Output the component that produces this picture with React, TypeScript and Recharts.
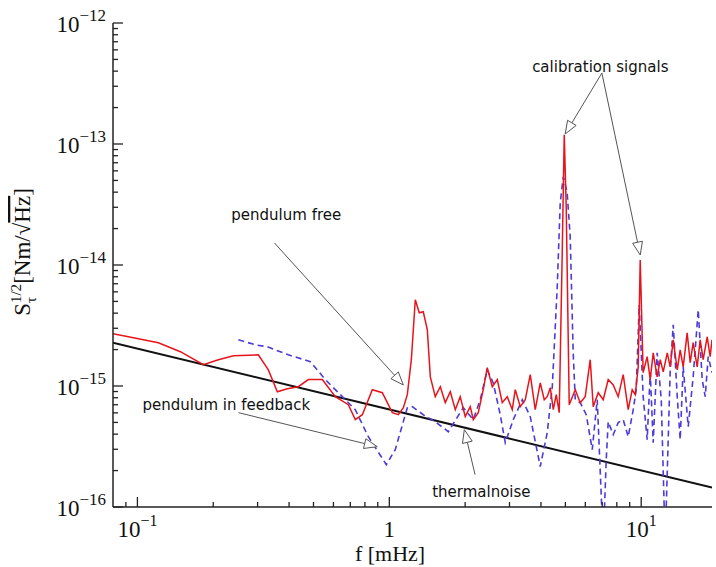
import React from 'react';
import { LineChart, Line, XAxis, YAxis, ReferenceLine, ReferenceDot } from 'recharts';

// pendulum free (red)
const freeFreq = [
  0.08, 0.0964, 0.1211, 0.1481, 0.1827, 0.2096, 0.2404, 0.302, 0.331, 0.3593,
  0.3937, 0.4353, 0.4771, 0.5421, 0.6105, 0.6876, 0.7328, 0.7815, 0.8561, 0.9381,
  1.028, 1.086, 1.137, 1.179, 1.223, 1.268, 1.315, 1.364, 1.415, 1.455,
  1.522, 1.594, 1.668, 1.746, 1.828, 1.912, 2.002, 2.096, 2.154, 2.255,
  2.36, 2.448, 2.563, 2.683, 2.808, 2.939, 3.077, 3.162, 3.311, 3.465,
  3.627, 3.796, 3.974, 4.122, 4.236, 4.355, 4.476, 4.6, 4.727, 4.859,
  4.948, 5.039, 5.179, 5.473, 5.728, 5.995, 6.275, 6.449, 6.751, 7.067,
  7.397, 7.743, 8.103, 8.483, 8.879, 9.211, 9.467, 9.73, 9.909, 10.18,
  10.56, 10.86, 11.16, 11.57, 11.9, 12.23, 12.69, 13.03, 13.4, 13.9,
  14.28, 14.68, 15.22, 15.65, 16.08, 16.68, 17.15, 17.62, 18.28, 18.78,
  19.1,
];
const freeAmp = [
  2.7e-15, 2.51e-15, 2.28e-15, 1.92e-15, 1.5e-15, 1.65e-15, 1.78e-15, 1.81e-15, 1.36e-15, 8.97e-16,
  9.5e-16, 9.87e-16, 1.13e-15, 1.13e-15, 8.16e-16, 7.01e-16, 5.27e-16, 5.79e-16, 9.32e-16, 8.8e-16,
  6.02e-16, 5.79e-16, 6.62e-16, 8.48e-16, 1.65e-15, 5.16e-15, 4.03e-15, 4.11e-15, 2.92e-15, 1.19e-15,
  8.16e-16, 9.87e-16, 7.28e-16, 8.97e-16, 6.37e-16, 8.16e-16, 5.58e-16, 6.75e-16, 5.27e-16, 6.02e-16,
  9.32e-16, 1.42e-15, 9.87e-16, 1.13e-15, 7.28e-16, 8.16e-16, 6.37e-16, 9.32e-16, 6.75e-16, 7.71e-16,
  1.24e-15, 6.37e-16, 1.06e-15, 7.71e-16, 8.16e-16, 9.68e-16, 6.37e-16, 8.48e-16, 6.02e-16, 1.3e-14,
  1.19e-13, 3.0e-14, 7.01e-16, 9.32e-16, 7.28e-16, 8.16e-16, 1.65e-15, 6.75e-16, 8.8e-16, 7.71e-16,
  1.13e-15, 1.02e-15, 8.16e-16, 1.24e-15, 6.37e-16, 9.32e-16, 8.48e-16, 1.44e-15, 1.1e-14, 1.29e-15,
  1.75e-15, 1.13e-15, 1.88e-15, 1.19e-15, 1.65e-15, 1.31e-15, 1.88e-15, 1.44e-15, 2.41e-15, 1.36e-15,
  1.99e-15, 1.44e-15, 2.75e-15, 1.56e-15, 2.28e-15, 1.44e-15, 2.41e-15, 1.65e-15, 2.55e-15, 1.75e-15,
  2.41e-15,
];

// pendulum in feedback (blue dashed)
const feedbackFreq = [
  0.2517, 0.2939, 0.328, 0.3973, 0.4859, 0.5572, 0.6389, 0.7328, 0.8254, 0.973,
  1.056, 1.179, 1.234, 1.364, 1.522, 1.715, 1.966, 2.154, 2.297, 2.448,
  2.586, 2.757, 2.886, 3.105, 3.372, 3.627, 3.974, 4.236, 4.436, 4.642,
  4.77, 4.904, 5.08, 5.226, 5.37, 5.473, 5.728, 6.05, 6.391, 6.69,
  7.067, 7.263, 7.397, 7.743, 8.103, 8.483, 8.879, 9.295, 9.554, 9.819,
  10.18, 10.56, 10.86, 11.16, 11.57, 12.01, 12.45, 13.03, 13.4, 13.9,
  14.28, 14.68, 15.37, 16.08, 16.84, 17.46, 17.95, 18.45, 19.1,
];
const feedbackAmp = [
  2.41e-15, 2.19e-15, 2.11e-15, 1.81e-15, 1.59e-15, 1.13e-15, 8.48e-16, 6.37e-16, 3.81e-16, 2.24e-16,
  2.98e-16, 6.62e-16, 6.75e-16, 5.79e-16, 5.07e-16, 4.19e-16, 6.62e-16, 5.27e-16, 7.71e-16, 1.36e-15,
  1.06e-15, 5.79e-16, 3.4e-16, 5.27e-16, 7.71e-16, 5.58e-16, 2.16e-16, 4.11e-16, 9.87e-16, 6.61e-15,
  3.26e-14, 5.35e-14, 4.0e-14, 1.71e-14, 1.88e-15, 7.71e-16, 7.28e-16, 5.79e-16, 2.98e-16, 7.71e-16,
  5e-17, 2.46e-16, 5.07e-16, 3.96e-16, 4.98e-16, 5.27e-16, 3.81e-16, 6.37e-16, 9.32e-16, 4.69e-15,
  8.16e-16, 3.6e-16, 1.29e-15, 3.4e-16, 1.88e-15, 7.71e-16, 5e-17, 1.29e-15, 3.21e-15, 8.16e-16,
  3.6e-16, 1.44e-15, 4.61e-16, 1.19e-15, 4.27e-15, 1.13e-15, 8.16e-16, 1.75e-15, 1.29e-15,
];

// thermal noise (black)
const thermalFreq = [0.08, 19.1];
const thermalAmp = [2.28e-15, 1.45e-16];

const xTicks = [0.09, 0.1, 0.2, 0.3, 0.4, 0.5, 0.6, 0.7, 0.8, 0.9, 1, 2, 3, 4, 5, 6, 7, 8, 9, 10];
const xMajor = [0.1, 1, 10];
const xMajorBase = ['10', '1', '10'];
const xMajorExp = ['\u22121', '', '1'];

const yTicks = [
  1e-16, 2e-16, 3e-16, 4e-16, 5e-16, 6e-16, 7e-16, 8e-16, 9e-16,
  1e-15, 2e-15, 3e-15, 4e-15, 5e-15, 6e-15, 7e-15, 8e-15, 9e-15,
  1e-14, 2e-14, 3e-14, 4e-14, 5e-14, 6e-14, 7e-14, 8e-14, 9e-14,
  1e-13, 2e-13, 3e-13, 4e-13, 5e-13, 6e-13, 7e-13, 8e-13, 9e-13,
  1e-12,
];
const yMajor = [1e-16, 1e-15, 1e-14, 1e-13, 1e-12];
const yMajorExp = ['\u221216', '\u221215', '\u221214', '\u221213', '\u221212'];

// annotation texts and arrows (data coordinates)
const noteText = ['calibration signals', 'pendulum free', 'pendulum in feedback', 'thermalnoise'];
const noteFreq = [6.88, 0.39, 0.2255, 2.32];
const noteAmp = [4.33e-13, 2.6e-14, 7.01e-16, 1.34e-16];

const arrowFromFreq = [6.98, 6.98, 0.35, 0.252, 2.19];
const arrowFromAmp = [3.86e-13, 3.86e-13, 1.52e-14, 6.02e-16, 1.85e-16];
const arrowToFreq = [4.99, 9.91, 1.137, 0.896, 1.985];
const arrowToAmp = [1.21e-13, 1.21e-14, 1.02e-15, 3.15e-16, 4.36e-16];

const freeData = freeFreq.map((f, i) => ({ f, s: freeAmp[i] }));
const feedbackData = feedbackFreq.map((f, i) => ({ f, s: feedbackAmp[i] }));
const thermalData = thermalFreq.map((f, i) => ({ f, s: thermalAmp[i] }));

const SERIF = "'Liberation Serif', 'Times New Roman', serif";
const SANS = "'DejaVu Sans', 'Open Sans', sans-serif";
const AXIS = '#222';

const BottomTick = (props: any) => {
  const { x, y, payload } = props;
  const k = xMajor.indexOf(payload.value);
  const len = k >= 0 ? 10 : 5;
  return (
    <g>
      <line x1={x} y1={y} x2={x} y2={y - len} stroke={AXIS} strokeWidth={1.3} />
      {k >= 0 && (
        <text x={x} y={y + 30} textAnchor="middle" fontFamily={SERIF} fontSize={23} fill="#111">
          {xMajorBase[k]}
          {xMajorExp[k] && (
            <tspan dy={-11} fontSize={16}>
              {xMajorExp[k]}
            </tspan>
          )}
        </text>
      )}
    </g>
  );
};

const TopTick = (props: any) => {
  const { x, y, payload } = props;
  const len = xMajor.indexOf(payload.value) >= 0 ? 10 : 5;
  return <line x1={x} y1={y} x2={x} y2={y + len} stroke={AXIS} strokeWidth={1.3} />;
};

const LeftTick = (props: any) => {
  const { x, y, payload } = props;
  const k = yMajor.indexOf(payload.value);
  const len = k >= 0 ? 10 : 5;
  return (
    <g>
      <line x1={x} y1={y} x2={x + len} y2={y} stroke={AXIS} strokeWidth={1.3} />
      {k >= 0 && (
        <text x={x - 7} y={y + 9} textAnchor="end" fontFamily={SERIF} fontSize={23} fill="#111">
          10
          <tspan dy={-11} fontSize={17}>
            {yMajorExp[k]}
          </tspan>
        </text>
      )}
    </g>
  );
};

const RightTick = (props: any) => {
  const { x, y, payload } = props;
  const len = yMajor.indexOf(payload.value) >= 0 ? 10 : 5;
  return <line x1={x} y1={y} x2={x - len} y2={y} stroke={AXIS} strokeWidth={1.3} />;
};

const Arrow = (p: any) => {
  const { x1, y1, x2, y2 } = p;
  if ([x1, y1, x2, y2].some((v) => typeof v !== 'number' || isNaN(v))) return <g />;
  const ang = Math.atan2(y2 - y1, x2 - x1);
  const L = 13;
  const W = 5;
  const bx = x2 - L * Math.cos(ang);
  const by = y2 - L * Math.sin(ang);
  const px = -Math.sin(ang) * W;
  const py = Math.cos(ang) * W;
  return (
    <g>
      <line x1={x1} y1={y1} x2={bx} y2={by} stroke="#555" strokeWidth={1} />
      <polygon
        points={`${x2},${y2} ${bx + px},${by + py} ${bx - px},${by - py}`}
        fill="#fff"
        stroke="#555"
        strokeWidth={1}
      />
    </g>
  );
};

const noteShape = (text: string) => (p: any) => (
  <text
    x={p.cx}
    y={p.cy}
    textAnchor="middle"
    dominantBaseline="central"
    fontFamily={SANS}
    fontSize={15}
    fill="#111"
  >
    {text}
  </text>
);

const XTitle = (p: any) => {
  const vb = p.viewBox || { x: 113, y: 507 };
  return (
    <text x={vb.x + 277} y={vb.y + 54} textAnchor="middle" fontFamily={SERIF} fontSize={22} fill="#111">
      f [mHz]
    </text>
  );
};

const YTitle = (p: any) => {
  const vb = p.viewBox || { x: 13, y: 23, height: 484 };
  const cx = vb.x + 17;
  const cy = vb.y + vb.height / 2 - 13;
  return (
    <text
      x={cx}
      y={cy}
      transform={`rotate(-90, ${cx}, ${cy})`}
      textAnchor="middle"
      fontFamily={SERIF}
      fontSize={23}
      fill="#111"
    >
      S
      <tspan dy={-9} fontSize={15}>
        1/2
      </tspan>
      <tspan dx={-19} dy={15} fontSize={15}>
        τ
      </tspan>
      <tspan dx={13} dy={-6}>
        [Nm/√
      </tspan>
      <tspan style={{ textDecoration: 'overline' }}>Hz</tspan>
      <tspan>]</tspan>
    </text>
  );
};

export default function App() {
  return (
    <div style={{ position: 'absolute', left: 0, top: 0, background: '#fff' }}>
      <LineChart width={716} height={567} margin={{ top: 23, right: 4, bottom: 20, left: 13 }}>
        <XAxis
          dataKey="f"
          type="number"
          scale="log"
          domain={[0.08, 19.1]}
          allowDataOverflow
          ticks={xTicks}
          interval={0}
          tickSize={0}
          tickMargin={0}
          tickLine={false}
          tick={<BottomTick />}
          height={40}
          axisLine={{ stroke: AXIS, strokeWidth: 1.5 }}
          label={<XTitle />}
        />
        <XAxis
          xAxisId="top"
          orientation="top"
          dataKey="f"
          type="number"
          scale="log"
          domain={[0.08, 19.1]}
          allowDataOverflow
          ticks={xTicks}
          interval={0}
          tickSize={0}
          tickMargin={0}
          tickLine={false}
          tick={<TopTick />}
          height={0}
          axisLine={{ stroke: AXIS, strokeWidth: 1.5 }}
        />
        <YAxis
          type="number"
          scale="log"
          domain={[1e-16, 1e-12]}
          allowDataOverflow
          ticks={yTicks}
          interval={0}
          tickSize={0}
          tickMargin={0}
          tickLine={false}
          tick={<LeftTick />}
          width={100}
          axisLine={{ stroke: AXIS, strokeWidth: 1.5 }}
          label={<YTitle />}
        />
        <YAxis
          yAxisId="right"
          orientation="right"
          type="number"
          scale="log"
          domain={[1e-16, 1e-12]}
          allowDataOverflow
          ticks={yTicks}
          interval={0}
          tickSize={0}
          tickMargin={0}
          tickLine={false}
          tick={<RightTick />}
          width={0}
          axisLine={{ stroke: AXIS, strokeWidth: 1.5 }}
        />
        <Line
          data={thermalData}
          dataKey="s"
          type="linear"
          stroke="#111"
          strokeWidth={2}
          dot={false}
          isAnimationActive={false}
        />
        <Line
          data={feedbackData}
          dataKey="s"
          type="linear"
          stroke="#4b3bd9"
          strokeWidth={1.6}
          strokeDasharray="6 4"
          dot={false}
          isAnimationActive={false}
        />
        <Line
          data={freeData}
          dataKey="s"
          type="linear"
          stroke="#e8141c"
          strokeWidth={1.5}
          dot={false}
          isAnimationActive={false}
        />
        {arrowFromFreq.map((f, i) => (
          <ReferenceLine
            key={`arrow-${i}`}
            segment={[
              { x: f, y: arrowFromAmp[i] },
              { x: arrowToFreq[i], y: arrowToAmp[i] },
            ]}
            ifOverflow="visible"
            shape={Arrow}
          />
        ))}
        {noteText.map((t, i) => (
          <ReferenceDot
            key={`note-${i}`}
            x={noteFreq[i]}
            y={noteAmp[i]}
            r={0}
            ifOverflow="visible"
            shape={noteShape(t)}
          />
        ))}
      </LineChart>
    </div>
  );
}
